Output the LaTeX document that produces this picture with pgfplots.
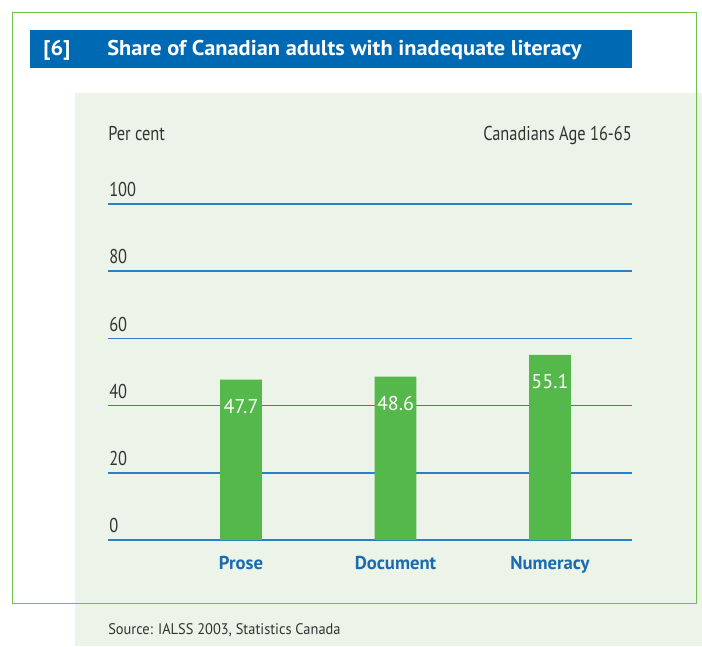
\documentclass[border=0pt]{standalone}
\usepackage{pgfplots}
\pgfplotsset{compat=1.18}
\usepackage{fontspec}
\setmainfont{PT Sans}
\newfontfamily\cond{PT Sans}[FakeStretch=0.82]
\newfontfamily\srcfont{PT Sans}[FakeStretch=0.94]
\newfontfamily\titlefont{PT Sans Bold}[FakeStretch=1.05]
\definecolor{frame}{HTML}{6CC24A}
\definecolor{titlebar}{HTML}{0069B4}
\definecolor{panel}{HTML}{ECF3E8}
\definecolor{bargreen}{HTML}{55B84A}
\definecolor{gridblue}{HTML}{2A7FC6}
\definecolor{catblue}{HTML}{1A6BB0}
\definecolor{textgray}{HTML}{333333}
\begin{document}
\begin{tikzpicture}
% page frame, 1 px = 0.75pt, origin top left
\begin{scope}[x=0.75pt,y=-0.75pt]
\useasboundingbox (0,0) rectangle (702,646);
\fill[panel] (75,93) rectangle (702,646);
\draw[frame, line width=1.1pt] (12.5,12.5) rectangle (696.5,603.5);
\fill[titlebar] (30,30) rectangle (632,68);
\node[anchor=base west, inner sep=0pt, text=white, font=\fontsize{16}{19}\titlefont] at (43,55) {[6]};
\node[anchor=base west, inner sep=0pt, text=white, font=\fontsize{16}{19}\titlefont] at (107,55) {Share of Canadian adults with inadequate literacy};
\node[anchor=base west, inner sep=0pt, text=textgray, font=\fontsize{15}{18}\cond] at (108,140.5) {Per cent};
\node[anchor=base east, inner sep=0pt, text=textgray, font=\fontsize{15}{18}\cond] at (632,140.5) {Canadians Age 16-65};
\node[anchor=base west, inner sep=0pt, text=textgray, font=\fontsize{11.5}{14}\srcfont] at (108,634) {Source: IALSS 2003, Statistics Canada};
\end{scope}
\begin{axis}[
  at={(81pt,-405pt)}, anchor=south west,
  scale only axis, width=393pt, height=252pt,
  ymin=0, ymax=100, xmin=-0.861, xmax=2.531,
  ytick={0,20,...,100},
  xtick=data, xticklabels={Prose,Document,Numeracy},
  ymajorgrids, grid style={gridblue, line width=1.1pt},
  axis line style={draw=none},
  major tick length=0pt,
  ybar, bar width=31.3pt,
  /pgf/number format/assume math mode=true,
  yticklabel style={anchor=base west, inner sep=0pt, text=textgray, font=\fontsize{15}{18}\cond, xshift=0.75pt, yshift=5.5pt},
  xticklabel style={anchor=north, inner sep=0pt, text=catblue, font=\fontsize{14}{17}\selectfont\bfseries, yshift=-12pt},
  nodes near coords,
  every node near coord/.append style={anchor=north, inner sep=0pt, text=white, font=\fontsize{15}{18}\selectfont, yshift=-14.4pt},
]
\addplot[fill=bargreen, draw=none] coordinates {(0,47.7) (1,48.6) (2,55.1)};
\end{axis}
\end{tikzpicture}
\end{document}
